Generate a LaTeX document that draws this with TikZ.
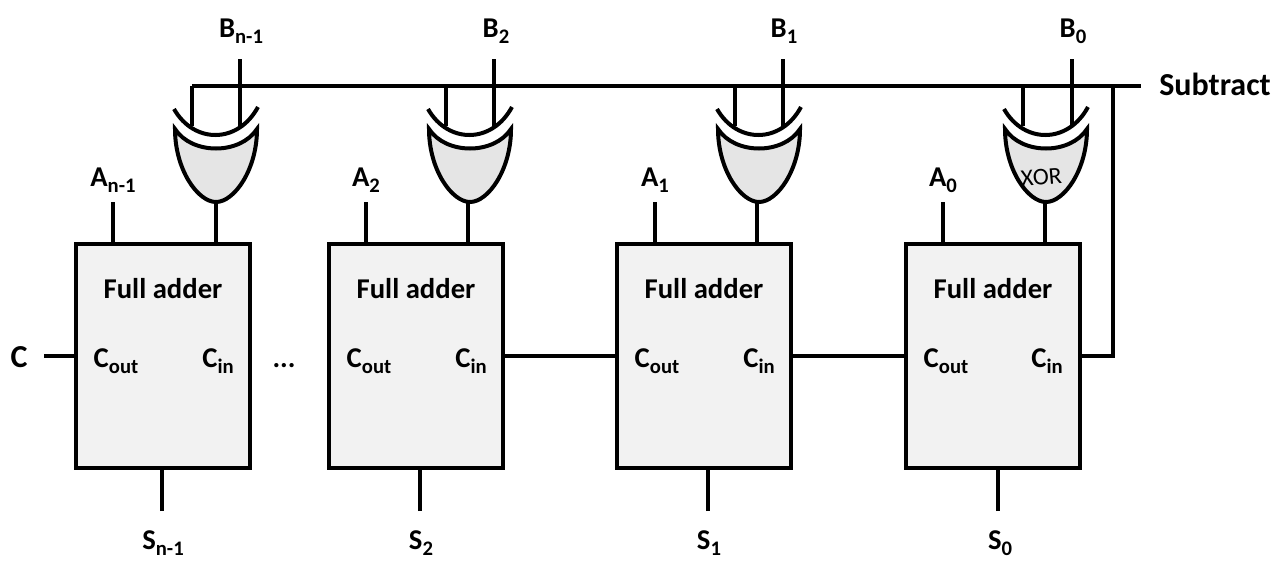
\documentclass[tikz,border=0pt]{standalone}
\usepackage{fontspec}
\setmainfont{Carlito}
\newcommand{\subl}[2]{#1\raisebox{-0.24em}{\fontsize{15.5pt}{15.5pt}\selectfont #2}}
\tikzset{
    wire/.style={line width=3pt},
    adder/.style={rectangle, draw, line width=2.6pt, fill=black!5,
    minimum width=130.5pt, minimum height=168pt, outer sep=0pt},
    lbl/.style={anchor=base, inner sep=0pt, font=\fontsize{21.5pt}{21.5pt}\selectfont\bfseries},
    biglbl/.style={lbl, font=\fontsize{24pt}{24pt}\selectfont\bfseries},
    pics/xorgate/.style={code={
        \draw[wire, fill=black!10] (-41,-73) .. controls (-24,-47) and (24,-47) .. (41,-73)
            .. controls (41,-32) and (18,0) .. (0,0)
            .. controls (-18,0) and (-41,-32) .. cycle;
        \draw[wire] (-42,-93) .. controls (-22,-58) and (22,-58) .. (42,-95);
        \coordinate (-in) at (0,-76);
    }}
}
\begin{document}
\begin{tikzpicture}[x=0.75pt, y=-0.75pt]
    \useasboundingbox (0,0) rectangle (1280,568);
    % adders
    \node[adder] (fa3) at (163,356) {};
    \node[adder] (fa2) at (416,356) {};
    \node[adder] (fa1) at (704,356) {};
    \node[adder] (fa0) at (993,356) {};
    \node[lbl] (t3) at (163,298) {Full adder};
    \node[lbl] (t2) at (416,298) {Full adder};
    \node[lbl] (t1) at (704,298) {Full adder};
    \node[lbl] (t0) at (993,298) {Full adder};
    \node[lbl] (co3) at (116,367) {\subl{C}{out}};
    \node[lbl] (ci3) at (218,367) {\subl{C}{in}};
    \node[lbl] (co2) at (369,367) {\subl{C}{out}};
    \node[lbl] (ci2) at (471,367) {\subl{C}{in}};
    \node[lbl] (co1) at (657,367) {\subl{C}{out}};
    \node[lbl] (ci1) at (759,367) {\subl{C}{in}};
    \node[lbl] (co0) at (946,367) {\subl{C}{out}};
    \node[lbl] (ci0) at (1047,367) {\subl{C}{in}};
    \node[lbl] (dots) at (284,367) {...};
    % gates
    \pic (g3) at (216,202) {xorgate};
    \pic (g2) at (470,202) {xorgate};
    \pic (g1) at (759,202) {xorgate};
    \pic (g0) at (1046,202) {xorgate};
    \node[anchor=base, inner sep=0pt, rotate=5, font=\fontsize{18pt}{18pt}\selectfont] (xor) at (1042,185) {XOR};
    % free ends
    \coordinate (b3) at (240,59);
    \coordinate (b2) at (494,59);
    \coordinate (b1) at (783,59);
    \coordinate (b0) at (1072,59);
    \coordinate (n3) at (192,86);
    \coordinate (n2) at (446,86);
    \coordinate (n1) at (735,86);
    \coordinate (n0) at (1023,86);
    \coordinate (o3) at (216,200);
    \coordinate (o2) at (468,200);
    \coordinate (o1) at (757,200);
    \coordinate (o0) at (1045,200);
    \coordinate (a3) at (113,202);
    \coordinate (a2) at (366,202);
    \coordinate (a1) at (655,202);
    \coordinate (a0) at (943,202);
    \coordinate (s3) at (162,511);
    \coordinate (s2) at (420,511);
    \coordinate (s1) at (708,511);
    \coordinate (s0) at (998,511);
    \coordinate (cend) at (44,356);
    \coordinate (busr) at (1141,86);
    \coordinate (subtap) at (1113,86);
    % labels
    \node[lbl] (lb3) at (241,37) {\subl{B}{n-1}};
    \node[lbl] (lb2) at (496,37) {\subl{B}{2}};
    \node[lbl] (lb1) at (784,37) {\subl{B}{1}};
    \node[lbl] (lb0) at (1073,37) {\subl{B}{0}};
    \node[lbl] (la3) at (113,186) {\subl{A}{n-1}};
    \node[lbl] (la2) at (366,186) {\subl{A}{2}};
    \node[lbl] (la1) at (655,186) {\subl{A}{1}};
    \node[lbl] (la0) at (943,186) {\subl{A}{0}};
    \node[lbl] (ls3) at (163,549) {\subl{S}{n-1}};
    \node[lbl] (ls2) at (421,549) {\subl{S}{2}};
    \node[lbl] (ls1) at (709,549) {\subl{S}{1}};
    \node[lbl] (ls0) at (1000,549) {\subl{S}{0}};
    \node[biglbl] (lc) at (19,367) {C};
    \node[biglbl] (lsub) at (1215,95) {Subtract};
    % wires
    \draw[wire] (n3) -- (busr);
    \draw[wire] (n3) -- (n3 |- g3-in);
    \draw[wire] (n2) -- (n2 |- g2-in);
    \draw[wire] (n1) -- (n1 |- g1-in);
    \draw[wire] (n0) -- (n0 |- g0-in);
    \draw[wire] (b3) -- (b3 |- g3-in);
    \draw[wire] (b2) -- (b2 |- g2-in);
    \draw[wire] (b1) -- (b1 |- g1-in);
    \draw[wire] (b0) -- (b0 |- g0-in);
    \draw[wire] (o3) -- (o3 |- fa3.north);
    \draw[wire] (o2) -- (o2 |- fa2.north);
    \draw[wire] (o1) -- (o1 |- fa1.north);
    \draw[wire] (o0) -- (o0 |- fa0.north);
    \draw[wire] (a3) -- (a3 |- fa3.north);
    \draw[wire] (a2) -- (a2 |- fa2.north);
    \draw[wire] (a1) -- (a1 |- fa1.north);
    \draw[wire] (a0) -- (a0 |- fa0.north);
    \draw[wire] (s3) -- (s3 |- fa3.south);
    \draw[wire] (s2) -- (s2 |- fa2.south);
    \draw[wire] (s1) -- (s1 |- fa1.south);
    \draw[wire] (s0) -- (s0 |- fa0.south);
    \draw[wire] (cend) -- (fa3.west);
    \draw[wire] (fa2.east) -- (fa1.west);
    \draw[wire] (fa1.east) -- (fa0.west);
    \draw[wire] (fa0.east) -| (subtap);
\end{tikzpicture}
\end{document}
